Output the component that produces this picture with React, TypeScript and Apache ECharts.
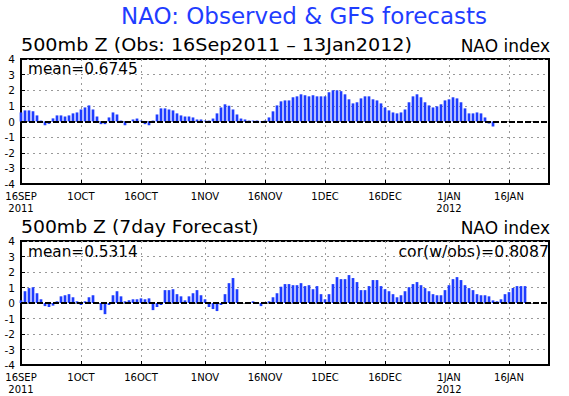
import React, { useEffect, useRef } from "react";
import * as echarts from "echarts";

// Daily categories: 16 Sep 2011 .. 27 Jan 2012
const START_YEAR = 2011;
const START_MONTH = 8; // September (0-based)
const START_DAY = 16;
const NUM_DAYS = 133;
const dayCategories: string[] = Array.from({ length: NUM_DAYS }, (_, i) => {
  const d = new Date(START_YEAR, START_MONTH, START_DAY + i);
  return `${d.getFullYear()}-${d.getMonth() + 1}-${d.getDate()}`;
});

// Tick positions (day offsets) and their labels
const tickDays = [0, 15, 30, 46, 61, 76, 91, 107, 122];
const tickLabels = ["16SEP\n2011", "1OCT", "16OCT", "1NOV", "16NOV", "1DEC", "16DEC", "1JAN\n2012", "16JAN"];

// Observed NAO index (daily, from 16 Sep 2011)
const obsValues = [
  0.58, 0.71, 0.71, 0.65, 0.39, 0.06, -0.24, -0.15, 0.2, 0.39,
  0.39, 0.32, 0.39, 0.52, 0.58, 0.77, 0.9, 1.03, 0.77, 0.32,
  -0.17, -0.17, 0.26, 0.58, 0.45, 0.06, -0.24, -0.1, 0.13, 0.19,
  0.06, -0.17, -0.24, 0.06, 0.45, 0.84, 0.84, 0.77, 0.71, 0.52,
  0.39, 0.32, 0.32, 0.26, 0.13, 0.13, 0.06, 0.06, 0.19, 0.52,
  0.9, 1.1, 1.01, 0.77, 0.45, 0.19, 0.13, 0.06, 0.06, 0.06,
  -0.05, 0.06, 0.26, 0.65, 1.03,
  1.29, 1.35, 1.35, 1.55, 1.61, 1.74, 1.68, 1.61, 1.68,
  1.61, 1.61, 1.61, 1.87, 2.0, 2.0, 1.94, 1.74, 1.42, 1.16,
  1.23, 1.48, 1.61, 1.61, 1.42, 1.35, 1.16, 0.9, 0.71, 0.58,
  0.52, 0.58, 0.77, 1.23, 1.61, 1.74, 1.55, 1.23, 1.03, 0.9,
  0.97, 1.1, 1.35, 1.42, 1.55, 1.48, 1.23, 0.84, 0.52, 0.52,
  0.58, 0.52, 0.26, -0.13, -0.32,
];

// 7-day GFS forecast NAO index (daily, from 16 Sep 2011)
const fcstValues = [
  0.17, 0.76, 0.96, 1.02, 0.63, 0.24, -0.2, -0.26, -0.17, 0.11,
  0.43, 0.5, 0.57, 0.37, 0.11, -0.13, 0.11, 0.37, 0.5, 0,
  -0.46, -0.72, -0.13, 0.5, 0.76, 0.43, 0.11, 0.17, 0.24, 0.24,
  0.3, 0.24, 0.3, -0.46, -0.26, -0.13, 0.83, 0.83, 0.89, 0.57,
  0.43, 0.17, 0.43, 0.63, 0.83, 0.5, 0.24, -0.26, -0.39, -0.52,
  -0.13, 0.57, 1.28, 1.61, 0.89, 0, 0, 0, 0.11, 0,
  -0.2, 0, 0.11, 0.37, 0.63,
  1.05, 1.22, 1.22, 1.15, 1.15, 1.28, 1.09, 1.15, 0.89, 1.09,
  0.57, 0.24, 0.57, 1.22, 1.67, 1.54, 1.54, 1.8, 1.61, 1.35,
  0.83, 0.83, 1.09, 1.48, 1.48, 1.09, 0.89, 0.76, 0.57, 0.37,
  0.5, 0.76, 1.02, 1.22, 1.35, 1.15, 0.96, 0.76, 0.57, 0.5,
  0.5, 0.83, 1.15, 1.54, 1.67, 1.48, 1.15, 0.96, 0.83, 0.57,
  0.5, 0.5, 0.43, 0.17, 0.11, 0.24, 0.57, 0.7, 0.96, 1.09,
  1.09, 1.09,
];

const Y_MIN = -4;
const Y_MAX = 4;
const Y_STEP = 1;

const titleText = "NAO: Observed & GFS forecasts";
const topSubtitle = "500mb Z (Obs: 16Sep2011 \u2013 13Jan2012)";
const bottomSubtitle = "500mb Z (7day Forecast)";
const indexLabel = "NAO index";
const topMean = "mean=0.6745";
const bottomMean = "mean=0.5314";
const corrText = "cor(w/obs)=0.8087";

const FONT = "'DejaVu Sans', sans-serif";
const BAR_COLOR = "#1f3dff";
const GRID_COLOR = "#9a9a9a";

const isTick = (i: number) => tickDays.includes(i);

function makeXAxis(gridIndex: number) {
  return {
    type: "category",
    gridIndex,
    data: dayCategories,
    boundaryGap: false,
    axisLine: { show: true, onZero: false, lineStyle: { color: "#000", width: 2 } },
    axisTick: { show: true, inside: true, length: 4, interval: isTick, lineStyle: { color: "#000", width: 1 } },
    axisLabel: {
      interval: isTick,
      formatter: (_v: string, i: number) => {
        const k = tickDays.indexOf(i);
        return k >= 0 ? tickLabels[k] : "";
      },
      fontFamily: FONT,
      fontSize: 10,
      color: "#000",
      margin: 6,
      lineHeight: 12,
    },
    splitLine: { show: true, interval: isTick, lineStyle: { color: GRID_COLOR, type: [2, 4], width: 1 } },
  };
}

function makeYAxis(gridIndex: number) {
  return {
    type: "value",
    gridIndex,
    min: Y_MIN,
    max: Y_MAX,
    interval: Y_STEP,
    axisLine: { show: true, lineStyle: { color: "#000", width: 2 } },
    axisTick: { show: true, inside: true, length: 4, lineStyle: { color: "#000" } },
    axisLabel: { fontFamily: FONT, fontSize: 10.5, color: "#000", margin: 6 },
    splitLine: { show: true, lineStyle: { color: GRID_COLOR, type: [2, 4], width: 1 } },
  };
}

function makeSeries(idx: number, data: number[]) {
  return {
    type: "bar",
    xAxisIndex: idx,
    yAxisIndex: idx,
    data,
    barWidth: 2.7,
    itemStyle: { color: BAR_COLOR },
    markLine: {
      silent: true,
      symbol: "none",
      label: { show: false },
      lineStyle: { color: "#000", type: [6, 2], width: 2 },
      data: [{ yAxis: 0 }],
    },
  };
}

function txt(text: string, x: number, y: number, size: number, align: string, scaleX = 1, fill = "#000") {
  return {
    type: "text",
    x,
    y,
    scaleX,
    style: { text, font: `${size}px ${FONT}`, fill, textAlign: align, textVerticalAlign: "bottom" },
  };
}

export default function App() {
  const ref = useRef<HTMLDivElement>(null);
  useEffect(() => {
    if (!ref.current) return;
    const chart = echarts.init(ref.current, null, { renderer: "svg" });
    chart.setOption({
      animation: false,
      backgroundColor: "#fff",
      grid: [
        { left: 21, top: 59, width: 528, height: 125, show: true, borderColor: "#000", borderWidth: 2, backgroundColor: "transparent" },
        { left: 21, top: 241, width: 528, height: 124, show: true, borderColor: "#000", borderWidth: 2, backgroundColor: "transparent" },
      ],
      xAxis: [makeXAxis(0), makeXAxis(1)],
      yAxis: [makeYAxis(0), makeYAxis(1)],
      series: [makeSeries(0, obsValues), makeSeries(1, fcstValues)],
      graphic: [
        txt(titleText, 304, 27, 23, "center", 1, BAR_COLOR),
        txt(topSubtitle, 21, 54, 18, "left", 1.065),
        txt(indexLabel, 550, 54, 17, "right", 1.0),
        txt(topMean, 28, 77, 15, "left", 1.02),
        txt(bottomSubtitle, 21, 236, 18, "left", 1.045),
        txt(indexLabel, 550, 236, 17, "right", 1.0),
        txt(bottomMean, 28, 260, 15, "left", 1.02),
        txt(corrText, 549, 260, 15, "right", 1.045),
      ],
    });
    return () => chart.dispose();
  }, []);
  return (
    <div
      ref={ref}
      style={{ position: "absolute", left: 0, top: 0, width: 569, height: 396, background: "#fff" }}
    />
  );
}
